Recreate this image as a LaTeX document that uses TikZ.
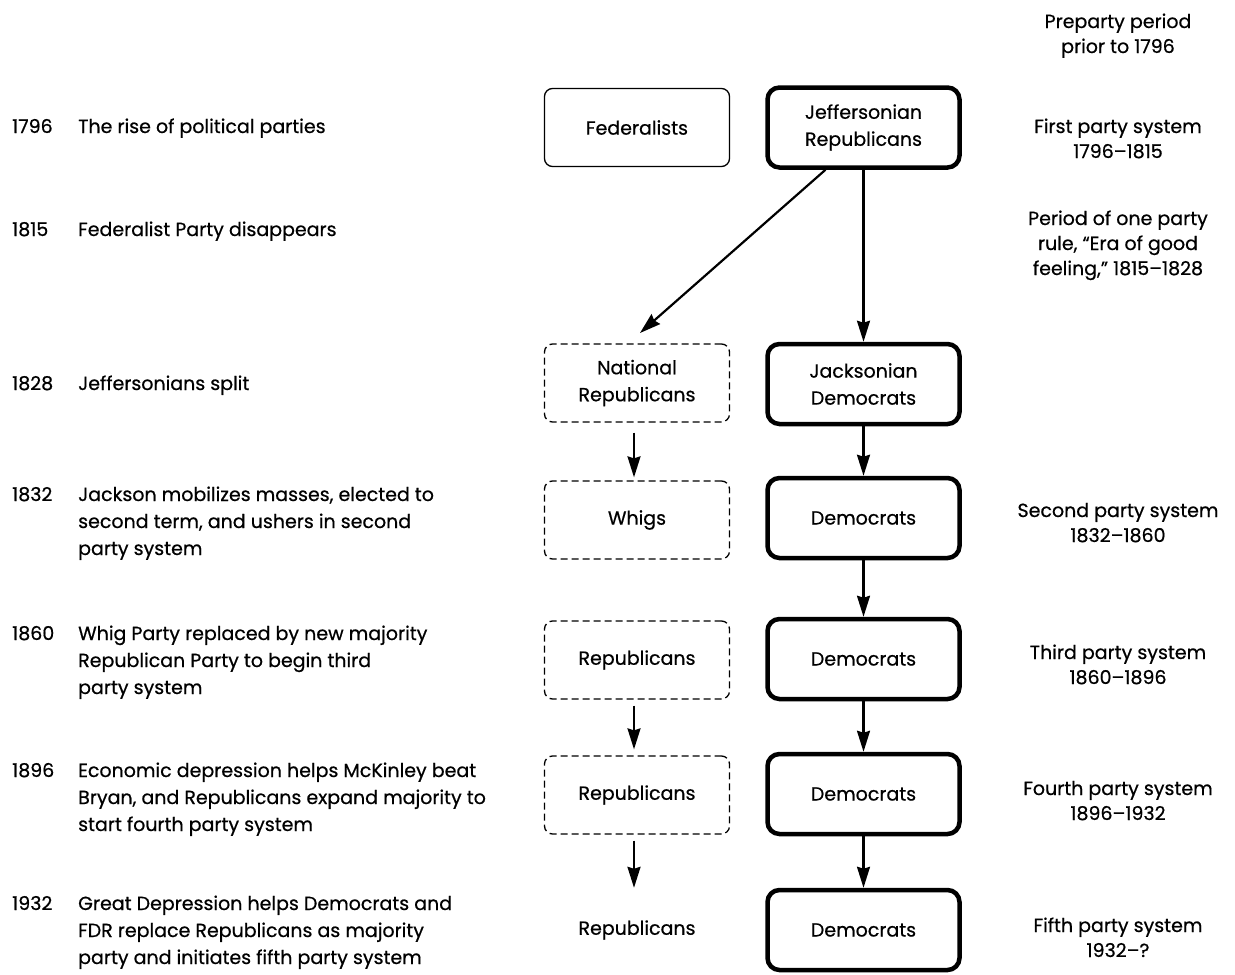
\documentclass[tikz,border=0pt]{standalone}
\usepackage{fontspec}
\setmainfont{Poppins}[FakeBold=0.6]
\usetikzlibrary{arrows.meta}
\begin{document}
\begin{tikzpicture}[x=1pt,y=-1pt,
  every node/.style={font=\fontsize{19}{27}\selectfont, text=black},
  dem/.style={draw, line width=4.5pt, rounded corners=12pt, minimum width=192pt, minimum height=80pt, align=center, inner sep=0pt},
  repbox/.style={draw, line width=1.3pt, rounded corners=8pt, minimum width=185pt, minimum height=78pt, align=center, inner sep=0pt},
  repdash/.style={repbox, dash pattern=on 7pt off 4pt},
  repplain/.style={minimum width=185pt, minimum height=78pt, align=center, inner sep=0pt},
  entry/.style={anchor=base west, inner sep=0pt},
  period/.style={anchor=base, inner sep=0pt, font=\fontsize{19}{25}\selectfont},
  arr/.style={-{Stealth[length=21pt,width=13pt,inset=2pt]}, line width=2.2pt}
]
\useasboundingbox (0,0) rectangle (1235,975);

% right-hand column: Democratic line
\node[dem] (jeff) at (863.5,127.5) {Jeffersonian\\Republicans};
\node[dem] (jack) at (863.5,384) {Jacksonian\\Democrats};
\node[dem] (d1832) at (863.5,518) {Democrats};
\node[dem] (d1860) at (863.5,659) {Democrats};
\node[dem] (d1896) at (863.5,794) {Democrats};
\node[dem] (d1932) at (863.5,930) {Democrats};

% left-hand column: opposition
\node[repbox] (fed) at (637,127.5) {Federalists};
\node[repdash] (natrep) at (637,383) {National\\Republicans};
\node[repdash] (whigs) at (637,520) {Whigs};
\node[repdash] (r1860) at (637,660) {Republicans};
\node[repdash] (r1896) at (637,795) {Republicans};
\node[repplain] (r1932) at (637,930) {Republicans};

\coordinate (split) at (640,333);

% connectors
\draw[arr] (jeff.south) -- (jack.north);
\draw[arr] ([xshift=-38pt]jeff.south) -- (split);
\draw[arr] (jack.south) -- (d1832.north);
\draw[arr] (d1832.south) -- (d1860.north);
\draw[arr] (d1860.south) -- (d1896.north);
\draw[arr] (d1896.south) -- (d1932.north);
\draw[arr, shorten <=10pt, shorten >=3pt] ([xshift=-3pt]natrep.south) -- ([xshift=-3pt]whigs.north);
\draw[arr, shorten <=6pt, shorten >=6pt] ([xshift=-3pt]r1860.south) -- ([xshift=-3pt]r1896.north);
\draw[arr, shorten <=6pt, shorten >=3pt] ([xshift=-3pt]r1896.south) -- ([xshift=-3pt]r1932.north);

% left text
\node[entry] (e1796) at (12,133) {\begin{tabular}[t]{@{}p{66pt}@{}l@{}}1796&The rise of political parties\end{tabular}};
\node[entry] (e1815) at (12,236) {\begin{tabular}[t]{@{}p{66pt}@{}l@{}}1815&Federalist Party disappears\end{tabular}};
\node[entry] (e1828) at (12,390) {\begin{tabular}[t]{@{}p{66pt}@{}l@{}}1828&Jeffersonians split\end{tabular}};
\node[entry] (e1832) at (12,501) {\begin{tabular}[t]{@{}p{66pt}@{}l@{}}1832&Jackson mobilizes masses, elected to\\&second term, and ushers in second\\&party system\end{tabular}};
\node[entry] (e1860) at (12,640) {\begin{tabular}[t]{@{}p{66pt}@{}l@{}}1860&Whig Party replaced by new majority\\&Republican Party to begin third\\&party system\end{tabular}};
\node[entry] (e1896) at (12,777) {\begin{tabular}[t]{@{}p{66pt}@{}l@{}}1896&Economic depression helps McKinley beat\\&Bryan, and Republicans expand majority to\\&start fourth party system\end{tabular}};
\node[entry] (e1932) at (12,910) {\begin{tabular}[t]{@{}p{66pt}@{}l@{}}1932&Great Depression helps Democrats and\\&FDR replace Republicans as majority\\&party and initiates fifth party system\end{tabular}};

% right text
\node[period] (p0) at (1118,28) {\begin{tabular}[t]{@{}c@{}}Preparty period\\prior to 1796\end{tabular}};
\node[period] (p1) at (1118,133) {\begin{tabular}[t]{@{}c@{}}First party system\\1796–1815\end{tabular}};
\node[period] (p15) at (1118,225) {\begin{tabular}[t]{@{}c@{}}Period of one party\\rule, “Era of good\\feeling,” 1815–1828\end{tabular}};
\node[period] (p2) at (1118,517) {\begin{tabular}[t]{@{}c@{}}Second party system\\1832–1860\end{tabular}};
\node[period] (p3) at (1118,659) {\begin{tabular}[t]{@{}c@{}}Third party system\\1860–1896\end{tabular}};
\node[period] (p4) at (1118,795) {\begin{tabular}[t]{@{}c@{}}Fourth party system\\1896–1932\end{tabular}};
\node[period] (p5) at (1118,932) {\begin{tabular}[t]{@{}c@{}}Fifth party system\\1932–?\end{tabular}};
\end{tikzpicture}
\end{document}
